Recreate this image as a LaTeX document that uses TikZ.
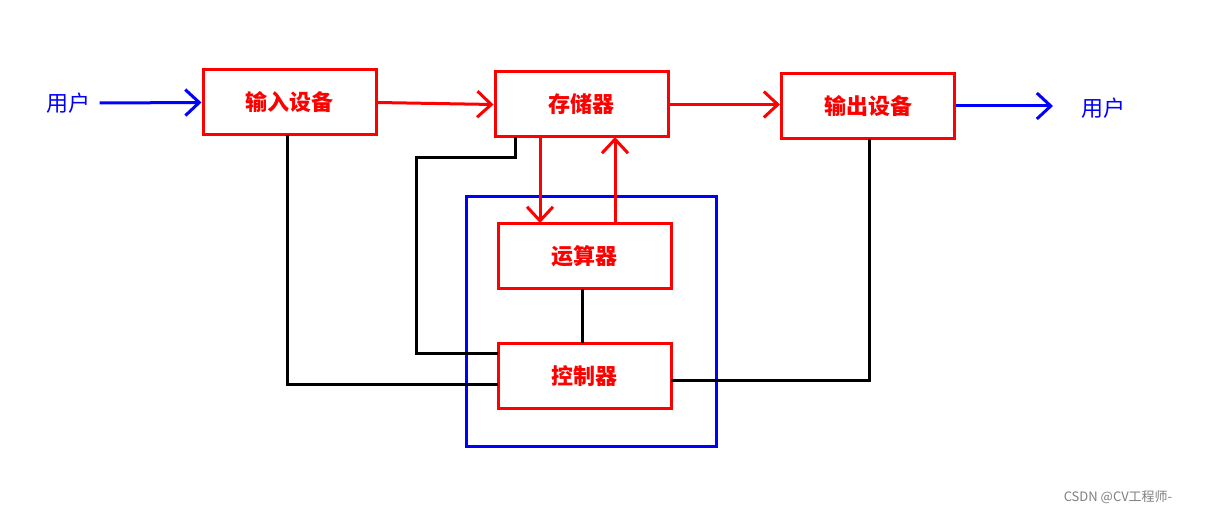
\documentclass[tikz,border=0pt]{standalone}
\usepackage{fontspec}
\newfontfamily\cjk{Noto Sans CJK SC}
\usetikzlibrary{arrows.meta}
\begin{document}
\begin{tikzpicture}[x=1pt,y=-1pt,
  box/.style={draw=red,line width=3pt,minimum width=173pt,minimum height=65pt,inner sep=0pt,text=red,font=\cjk\bfseries\fontsize{22}{24}\selectfont},
  ra/.style={draw=red,line width=3pt,-{Straight Barb[length=14pt,width=26pt,line width=3pt]}},
  ba/.style={draw=blue,line width=3pt,-{Straight Barb[length=14pt,width=26pt,line width=3pt]}},
  bl/.style={draw=black,line width=3pt},
  user/.style={text=blue,font=\cjk\fontsize{22}{24}\selectfont}]
\useasboundingbox (0,0) rectangle (1213,516);
\fill[white] (0,0) rectangle (1213,516);
\draw[blue,line width=3pt] (466,196) rectangle (716,446);
\node[box] (in) at (289.5,102.5) {输入设备};
\node[box] (mem) at (581.5,104.5) {存储器};
\node[box] (out) at (868,106) {输出设备};
\node[box] (alu) at (584.5,256) {运算器};
\node[box] (ctl) at (584.5,376) {控制器};
\node[user] (u1) at (68,103) {用户};
\node[user] (u2) at (1103,108) {用户};
\draw[ba] (u1.east) ++(6,0) -- (in.west);
\draw[ba] (out.east) -- (1053,106);
\draw[ra] (in.east) -- (mem.west);
\draw[ra] (mem.east) -- (out.west |- mem.east);
\draw[ra] (540,137) -- (540,223);
\draw[ra] (615,223) -- (615,137);
\draw[bl] (582,289) -- (582,343);
\draw[bl] (515,137) -- (515,158) -- (416,158) -- (416,353) -- (498,353);
\draw[bl] (287,135) -- (287,384) -- (498,384);
\draw[bl] (869,139) -- (869,380) -- (671,380);
\node[text=gray,font=\cjk\fontsize{13}{14}\selectfont] (wm) at (1118,497) {CSDN @CV工程师-};
\end{tikzpicture}
\end{document}
